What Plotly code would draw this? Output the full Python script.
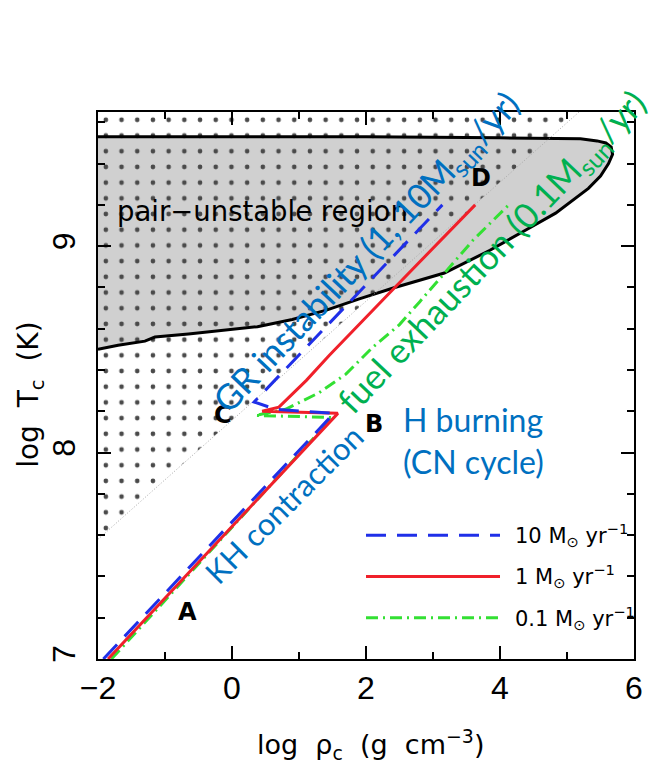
import plotly.graph_objects as go

# ---------------- data (log rho_c, log T_c) ----------------
# pair-unstable region boundary
pair_x = [-2.0, -1.7, -1.3, -1.15, -0.65, 0.0, 0.38, 0.9, 1.41, 1.9, 2.43, 3.17, 3.85,
          4.34, 4.83, 5.32, 5.5, 5.62, 5.68, 5.66, 5.58, 5.45, 5.2, 4.0, 2.0, 0.0, -2.0]
pair_y = [8.50, 8.52, 8.54, 8.56, 8.575, 8.595, 8.61, 8.645, 8.69, 8.745, 8.80, 8.87, 8.98,
          9.07, 9.16, 9.28, 9.34, 9.40, 9.445, 9.48, 9.50, 9.51, 9.52, 9.525, 9.53, 9.53, 9.53]

# electron degeneracy line (dotted) bounding the dotted region
deg_x = [-2.0, 5.18]
deg_y = [7.58, 9.65]

# evolutionary tracks
blue_x = [-1.92, 1.52, 0.65, 0.33, 3.14]
blue_y = [7.00, 8.19, 8.21, 8.245, 9.20]

red_x = [-1.85, 1.58, 0.45, 0.70, 1.11, 1.45, 2.43, 3.63]
red_y = [7.00, 8.19, 8.20, 8.22, 8.35, 8.47, 8.80, 9.20]

green_x = [-1.80, 1.50, 0.35, 0.80, 1.30, 1.70, 2.10, 2.50, 2.80, 3.20, 3.60, 4.13]
green_y = [7.00, 8.17, 8.18, 8.21, 8.29, 8.38, 8.51, 8.62, 8.73, 8.88, 9.03, 9.20]

# legend
legend_x = [2.0, 4.0]
legend_y = [7.6, 7.4, 7.2]
legend_labels = ["10 M<sub>⊙</sub> yr<sup>−1</sup>", "1 M<sub>⊙</sub> yr<sup>−1</sup>",
                 "0.1 M<sub>⊙</sub> yr<sup>−1</sup>"]

# point labels
pt_labels = ["A", "B", "C", "D"]
pt_x = [-0.66, 2.12, -0.13, 3.72]
pt_y = [7.23, 8.14, 8.18, 9.33]

BLUE = "#1f2fe8"
RED = "#f0202a"
GREEN = "#33e033"
TXT_BLUE = "#0070c0"
TXT_GREEN = "#00b050"
HFONT = "DejaVu Sans"

fig = go.Figure()

# grey pair-unstable region
fig.add_trace(go.Scatter(x=pair_x, y=pair_y, mode="lines", fill="toself",
                         fillcolor="#d0d0d0", line=dict(width=0),
                         hoverinfo="skip", showlegend=False))
# dotted (degenerate) region
fig.add_trace(go.Scatter(x=deg_x + [deg_x[0]], y=deg_y + [deg_y[-1]], mode="lines",
                         fill="toself", fillcolor="rgba(0,0,0,0)",
                         fillpattern=dict(shape=".", size=15.7, solidity=0.07,
                                          fgcolor="#4a4a4a", bgcolor="rgba(0,0,0,0)",
                                          fgopacity=1),
                         line=dict(width=0), hoverinfo="skip", showlegend=False))
# boundary of pair region
fig.add_trace(go.Scatter(x=pair_x, y=pair_y, mode="lines",
                         line=dict(color="black", width=3),
                         hoverinfo="skip", showlegend=False))
# degeneracy line
fig.add_trace(go.Scatter(x=deg_x, y=deg_y, mode="lines",
                         line=dict(color="#a8a8a8", width=1, dash="1px,2px"),
                         hoverinfo="skip", showlegend=False))

DASH_B = "20px,11px"
DASH_G = "12px,5px,2px,5px"

fig.add_trace(go.Scatter(x=green_x, y=green_y, mode="lines",
                         line=dict(color=GREEN, width=3, dash=DASH_G), showlegend=False))
fig.add_trace(go.Scatter(x=red_x, y=red_y, mode="lines",
                         line=dict(color=RED, width=3), showlegend=False))
fig.add_trace(go.Scatter(x=blue_x, y=blue_y, mode="lines",
                         line=dict(color=BLUE, width=3, dash=DASH_B), showlegend=False))

# legend samples
for yv, col, dsh in zip(legend_y, [BLUE, RED, GREEN], [DASH_B, "solid", DASH_G]):
    fig.add_trace(go.Scatter(x=legend_x, y=[yv, yv], mode="lines",
                             line=dict(color=col, width=3, dash=dsh),
                             showlegend=False))

ann = []
for lab, yv in zip(legend_labels, legend_y):
    ann.append(dict(x=4.2, y=yv, text=lab, showarrow=False, xanchor="left", yanchor="middle",
                    font=dict(family=HFONT, size=21, color="black")))
for lab, xv, yv in zip(pt_labels, pt_x, pt_y):
    ann.append(dict(x=xv, y=yv, text="<b>" + lab + "</b>", showarrow=False,
                    font=dict(family=HFONT, size=24, color="black")))

ann.append(dict(x=0.46, y=9.17, text="pair−unstable region", showarrow=False,
                font=dict(family=HFONT, size=27.5, color="black")))

CAL = "Lato"
ann.append(dict(x=2.52, y=8.06, text="H burning<br>(CN cycle)", showarrow=False,
                xanchor="left", align="left", yanchor="middle",
                font=dict(family=CAL, size=32, color=TXT_BLUE)))
ann.append(dict(x=0.775, y=7.75, text="KH contraction", showarrow=False, textangle=-45,
                font=dict(family=CAL, size=31, color=TXT_BLUE)))
ann.append(dict(x=2.02, y=8.97, text="GR instability (1, 10M<sub>sun</sub>/yr)", showarrow=False,
                textangle=-46.5, font=dict(family=CAL, size=35, color=TXT_BLUE)))
ann.append(dict(x=3.89, y=8.97, text="fuel exhaustion (0.1M<sub>sun</sub>/yr)", showarrow=False,
                textangle=-46.5, font=dict(family=CAL, size=35, color=TXT_GREEN)))

# axis titles
ann.append(dict(xref="paper", yref="paper", x=0.508, y=-0.157, xanchor="center", yanchor="middle",
                text="log  ρ<sub>c</sub>  (g  cm<sup>−3</sup>)", showarrow=False,
                font=dict(family=HFONT, size=27, color="black")))
ann.append(dict(xref="paper", yref="paper", x=-0.125, y=0.483, textangle=-90,
                xanchor="center", yanchor="middle",
                text="log  T<sub>c</sub>  (K)", showarrow=False,
                font=dict(family=HFONT, size=28, color="black")))

axis_common = dict(showgrid=False, zeroline=False, showline=True, linecolor="black",
                   linewidth=2, ticks="inside", tickcolor="black", tickwidth=1.5,
                   ticklen=13, mirror="allticks",
                   tickfont=dict(family="Liberation Sans", size=32, color="black"))

fig.update_layout(
    width=654, height=766,
    margin=dict(l=98, r=11, t=112, b=107),
    plot_bgcolor="white", paper_bgcolor="white",
    showlegend=False,
    annotations=ann,
    xaxis=dict(range=[-2, 6], tick0=-2, dtick=2, ticklabelstandoff=0,
               minor=dict(dtick=1, ticks="inside", ticklen=7, tickcolor="black", tickwidth=1.5),
               **axis_common),
    yaxis=dict(range=[7, 9.65], tick0=7, dtick=1, tickangle=-90, ticklabelstandoff=8,
               minor=dict(dtick=0.2, ticks="inside", ticklen=7, tickcolor="black", tickwidth=1.5),
               **axis_common),
)

fig.write_html("out.html")
